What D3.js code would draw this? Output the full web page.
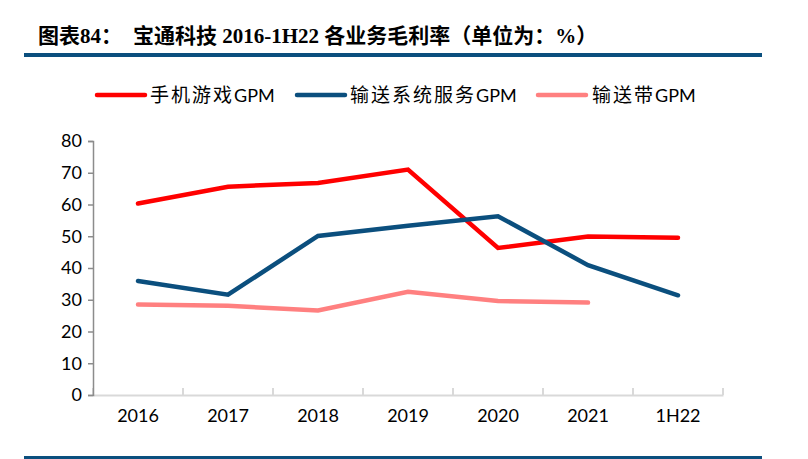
<!DOCTYPE html>
<html><head><meta charset="utf-8">
<script src="https://cdn.jsdelivr.net/npm/d3@7"></script>
<style>body{margin:0;background:#fff}svg{display:block}</style>
</head><body>
<svg id="c" width="808" height="459"></svg>
<script>
const categories = ["2016","2017","2018","2019","2020","2021","1H22"];
const gameGPM = [60.3, 65.6, 66.8, 71.0, 46.3, 49.9, 49.5];
const conveyorServiceGPM = [35.9, 31.6, 50.1, 53.3, 56.3, 40.9, 31.4];
const conveyorBeltGPM = [28.5, 28.1, 26.6, 32.5, 29.6, 29.1, null];
const yTicks = [0,10,20,30,40,50,60,70,80];
const seriesNames = [["手机游戏","GPM"],["输送系统服务","GPM"],["输送带","GPM"]];
const seriesColors = ["#FF0000","#0B4F7E","#FF8080"];

const svg = d3.select("#c");
const CJK = "'Noto Sans CJK SC', sans-serif";
const SERIF = "'Liberation Serif', 'DejaVu Serif', serif";
const LAT = "Lato, 'Open Sans', sans-serif";

// title
const title = svg.append("text").attr("y",43)
  .attr("font-weight","bold").attr("font-size",21).attr("fill","#000");
[["图表",CJK,38],["84",SERIF,null],["：",CJK,null],
 ["宝通科技",CJK,133],[" 2016-1H22 ",SERIF,null],["各业务毛利率（单位为：",CJK,null],
 ["%",SERIF,null],["）",CJK,null]].forEach(([t,f,xx])=>{
  const ts = title.append("tspan").attr("font-family",f).text(t);
  if (xx!=null) ts.attr("x",xx);
});
svg.append("rect").attr("x",24).attr("y",53).attr("width",738).attr("height",4).attr("fill","#0B4F7E");
svg.append("rect").attr("x",24).attr("y",456).attr("width",738).attr("height",3).attr("fill","#0B4F7E");

const x = d3.scaleBand().domain(categories).range([93,723]);
const y = d3.scaleLinear().domain([0,80]).range([395,141]);

// x axis
const xa = svg.append("g").attr("transform","translate(0,395)")
  .call(d3.axisBottom(x).tickSize(0).tickPadding(14));
xa.select(".domain").attr("stroke","#d9d9d9").attr("stroke-width",2);
xa.selectAll("text").attr("font-family",LAT).attr("font-size",18).attr("fill","#000");
const bounds = x.domain().map(d=>x(d)).concat([x.range()[1]]);
svg.append("g").selectAll("line").data(bounds).join("line")
  .attr("x1",d=>d).attr("x2",d=>d).attr("y1",395).attr("y2",388)
  .attr("stroke","#d9d9d9").attr("stroke-width",2);

// y axis
const ya = svg.append("g").attr("transform","translate(93,0)")
  .call(d3.axisLeft(y).tickValues(yTicks).tickSize(5).tickPadding(6));
ya.select(".domain").attr("stroke","#8c8c8c").attr("stroke-width",1.5);
ya.selectAll(".tick line").attr("stroke","#8c8c8c").attr("stroke-width",1.5);
ya.selectAll("text").attr("font-family",LAT).attr("font-size",18).attr("fill","#000");

const line = d3.line().defined(d=>d.v!=null)
  .x(d=>x(d.c)+x.bandwidth()/2).y(d=>y(d.v));
const allSeries = [gameGPM, conveyorServiceGPM, conveyorBeltGPM];
[2,0,1].forEach(i=>{
  const data = categories.map((c,j)=>({c, v: allSeries[i][j]}));
  svg.append("path").datum(data).attr("d",line).attr("fill","none")
    .attr("stroke",seriesColors[i]).attr("stroke-width",4.5)
    .attr("stroke-linecap","round").attr("stroke-linejoin","miter");
});
// legend
const legendPos = [[97,150],[297,350],[538,592]];
seriesNames.forEach((n,i)=>{
  const [lx,tx] = legendPos[i];
  svg.append("line").attr("x1",lx).attr("x2",lx+48).attr("y1",95).attr("y2",95)
    .attr("stroke",seriesColors[i]).attr("stroke-width",4.5).attr("stroke-linecap","round");
  const t = svg.append("text").attr("x",tx).attr("y",102).attr("fill","#000");
  t.append("tspan").attr("font-family",CJK).attr("font-size",19).attr("letter-spacing",2).text(n[0]);
  t.append("tspan").attr("font-family",LAT).attr("font-size",18).text(n[1]);
});
</script>
</body></html>
